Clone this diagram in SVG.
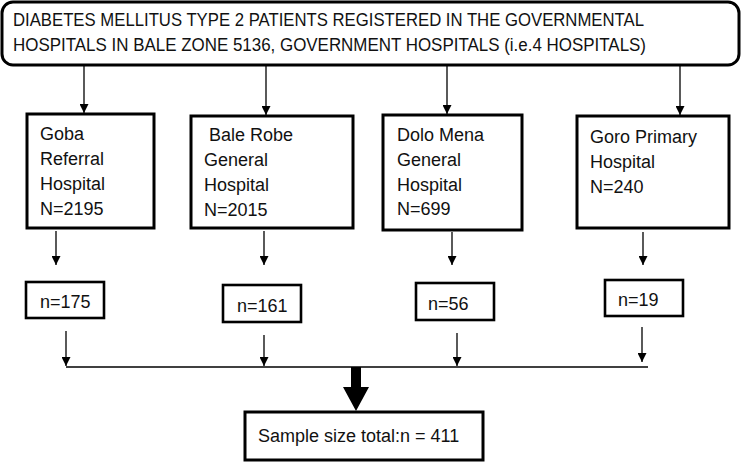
<svg xmlns="http://www.w3.org/2000/svg" width="742" height="462" viewBox="0 0 742 462">
  <defs>
    <marker id="ah" viewBox="0 0 10 10" refX="10" refY="5" markerWidth="9" markerHeight="9" markerUnits="userSpaceOnUse" orient="auto">
      <path d="M0,0 L10,5 L0,10 Z" fill="#000"/>
    </marker>
    <style>
      .box { fill: #fff; stroke: #000; stroke-width: 3; }
      .sbox { fill: #fff; stroke: #000; stroke-width: 2.6; }
      .ln { stroke: #000; stroke-width: 1.3; fill: none; }
      .arr { stroke: #000; stroke-width: 1.3; fill: none; marker-end: url(#ah); }
      text { font-family: "Liberation Sans", Arial, sans-serif; font-size: 18px; fill: #111; }
      .hd { font-size: 17.5px; }
    </style>
  </defs>
  <rect width="742" height="462" fill="#fff"/>

  <g id="population">
    <rect x="2" y="2" width="737" height="63" rx="11" ry="11" class="box" stroke-width="2.6"/>
    <text class="hd" x="13" y="26" textLength="631" lengthAdjust="spacingAndGlyphs">DIABETES MELLITUS TYPE 2 PATIENTS REGISTERED IN THE GOVERNMENTAL</text>
    <text class="hd" x="13" y="51" textLength="633" lengthAdjust="spacingAndGlyphs">HOSPITALS IN BALE ZONE 5136, GOVERNMENT HOSPITALS (i.e.4 HOSPITALS)</text>
  </g>

  <g id="goba">
    <rect x="27" y="114" width="127" height="114" class="box"/>
    <text x="40" y="140">Goba</text>
    <text x="40" y="165">Referral</text>
    <text x="40" y="190">Hospital</text>
    <text x="40" y="215">N=2195</text>
  </g>
  <g id="bale-robe">
    <rect x="191" y="116" width="162" height="112" class="box"/>
    <text x="209" y="141">Bale Robe</text>
    <text x="204" y="166">General</text>
    <text x="204" y="191">Hospital</text>
    <text x="204" y="216">N=2015</text>
  </g>
  <g id="dolo-mena">
    <rect x="383" y="115" width="139" height="115" class="box"/>
    <text x="397" y="141">Dolo Mena</text>
    <text x="397" y="166">General</text>
    <text x="397" y="191">Hospital</text>
    <text x="397" y="215">N=699</text>
  </g>
  <g id="goro">
    <rect x="577" y="116" width="152" height="112" class="box"/>
    <text x="590" y="143">Goro Primary</text>
    <text x="590" y="168">Hospital</text>
    <text x="590" y="193">N=240</text>
  </g>

  <g id="n175">
    <rect x="26" y="282" width="78" height="36" class="sbox"/>
    <text x="40" y="308">n=175</text>
  </g>
  <g id="n161">
    <rect x="223" y="285" width="78" height="37" class="sbox"/>
    <text x="237" y="312">n=161</text>
  </g>
  <g id="n56">
    <rect x="416" y="283" width="78" height="37" class="sbox"/>
    <text x="428" y="310">n=56</text>
  </g>
  <g id="n19">
    <rect x="605" y="280" width="78" height="36" class="sbox"/>
    <text x="618" y="306">n=19</text>
  </g>

  <g id="total">
    <rect x="245" y="412" width="238" height="48" class="box"/>
    <text x="258" y="442">Sample size total:n = 411</text>
  </g>

  <g id="connectors">
    <!-- population to hospitals -->
    <line x1="84" y1="66" x2="84" y2="113" class="arr"/>
    <line x1="266" y1="66" x2="266" y2="115" class="arr"/>
    <line x1="447" y1="66" x2="447" y2="114" class="arr"/>
    <line x1="680" y1="66" x2="680" y2="115" class="arr"/>
    <!-- hospitals to samples -->
    <line x1="56" y1="231" x2="56" y2="265" class="arr"/>
    <line x1="264" y1="231" x2="264" y2="265" class="arr"/>
    <line x1="452" y1="232" x2="452" y2="265" class="arr"/>
    <line x1="643" y1="232" x2="643" y2="265" class="arr"/>
    <!-- samples to collector line -->
    <line x1="66" y1="331" x2="66" y2="366" class="arr"/>
    <line x1="264" y1="335" x2="264" y2="366" class="arr"/>
    <line x1="457" y1="333" x2="457" y2="366" class="arr"/>
    <line x1="642" y1="327" x2="642" y2="362" class="arr"/>
    <line x1="66" y1="367" x2="648" y2="367" class="ln" stroke-width="2"/>
    <!-- bold arrow to total -->
    <path d="M351,367 H361 V387 H369 L356,411 L343,387 H351 Z" fill="#000"/>
  </g>
</svg>
